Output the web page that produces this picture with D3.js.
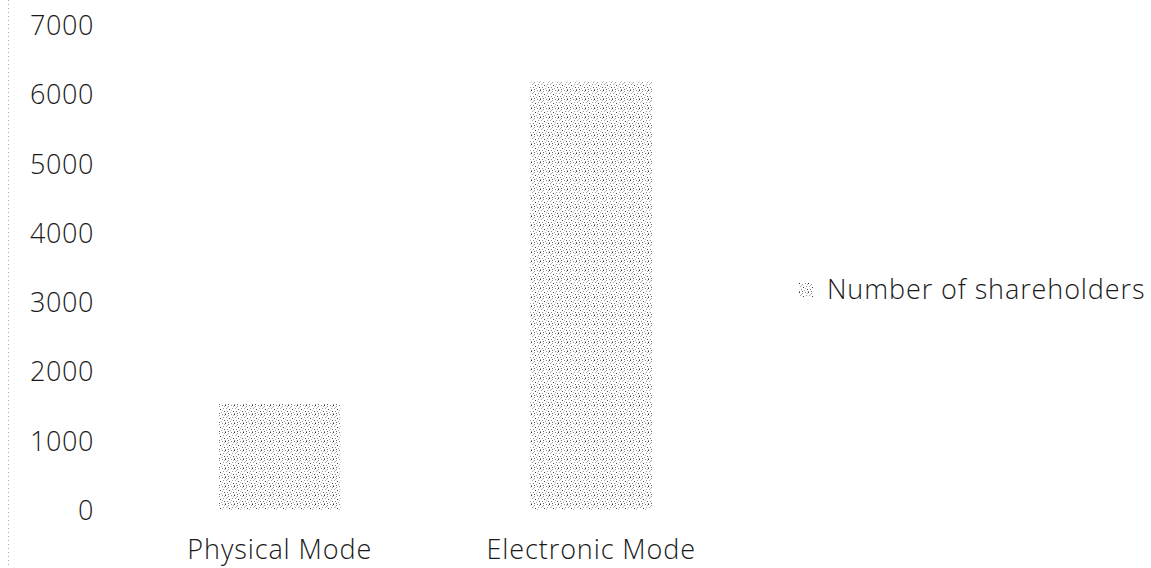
<!DOCTYPE html>
<html><head><meta charset="utf-8">
<script src="https://cdn.jsdelivr.net/npm/d3@7"></script>
<style>
html,body{margin:0;padding:0;background:#fff;}
svg{display:block;}
text{font-family:"Open Sans",sans-serif;font-weight:300;fill:#1a1a1a;}
</style></head><body>
<svg id="chart" width="1151" height="568"></svg>
<script>
const categories = ["Physical Mode", "Electronic Mode"];
const values = [1530, 6180];
const seriesName = "Number of shareholders";
const yTicks = [0, 1000, 2000, 3000, 4000, 5000, 6000, 7000];

const svg = d3.select("#chart");
const W = 1151, H = 568;

// stipple pattern
const defs = svg.append("defs");
const pat = defs.append("pattern").attr("id","stip").attr("patternUnits","userSpaceOnUse")
  .attr("width",9).attr("height",9);
pat.append("rect").attr("width",9).attr("height",9).attr("fill","#ffffff");
const dots = [[0,0,"#333"],[3,1,"#999"],[6,0,"#888"],[1,3,"#aaa"],[4,4,"#444"],[7,3,"#999"],
  [2,6,"#888"],[5,7,"#aaa"],[8,6,"#555"],[0,8,"#999"],[6,5,"#bbb"],[3,8,"#666"],[8,1,"#aaa"],[2,2,"#bbb"]];
dots.forEach(d=>pat.append("rect").attr("x",d[0]).attr("y",d[1]).attr("width",1).attr("height",1).attr("fill",d[2]));

const x = d3.scaleBand().domain(categories).range([124, 747]).paddingInner(0.61).paddingOuter(0.305);
const y = d3.scaleLinear().domain([0, 7000]).range([510, 25]);

// left dotted border
svg.append("line").attr("x1",8.5).attr("x2",8.5).attr("y1",0).attr("y2",H)
  .attr("stroke","#aaa").attr("stroke-width",1).attr("stroke-dasharray","1,3");

// y axis
const yAxis = d3.axisLeft(y).tickValues(yTicks).tickSize(0).tickPadding(0).tickFormat(d3.format("d"));
const gy = svg.append("g").attr("transform","translate(94,0)").call(yAxis);
gy.select(".domain").remove();
gy.selectAll("text").attr("font-size",27).attr("font-family","Open Sans").attr("font-weight",300)
  .attr("fill","#1a1a1a").attr("dy","0.35em").attr("letter-spacing","0.6px");

// bars
svg.selectAll("rect.bar").data(values).enter().append("rect").attr("class","bar")
  .attr("x",(d,i)=>x(categories[i])).attr("width",x.bandwidth())
  .attr("y",d=>y(d)).attr("height",d=>y(0)-y(d)).attr("fill","url(#stip)");

// x axis
const xAxis = d3.axisBottom(x).tickSize(0).tickPadding(0);
const gx = svg.append("g").attr("transform","translate(0,537)").call(xAxis);
gx.select(".domain").remove();
gx.selectAll("text").attr("font-size",27).attr("font-family","Open Sans").attr("font-weight",300)
  .attr("fill","#1a1a1a").attr("dy","0.8em").attr("letter-spacing","0.9px");

// legend
const lg = svg.append("g").attr("transform","translate(799,283)");
lg.append("rect").attr("width",14).attr("height",14).attr("fill","url(#stip)");
lg.append("text").attr("x",28).attr("y",7).attr("dy","0.35em").attr("font-size",27)
  .attr("letter-spacing","0.9px").text(seriesName);
</script>
</body></html>
